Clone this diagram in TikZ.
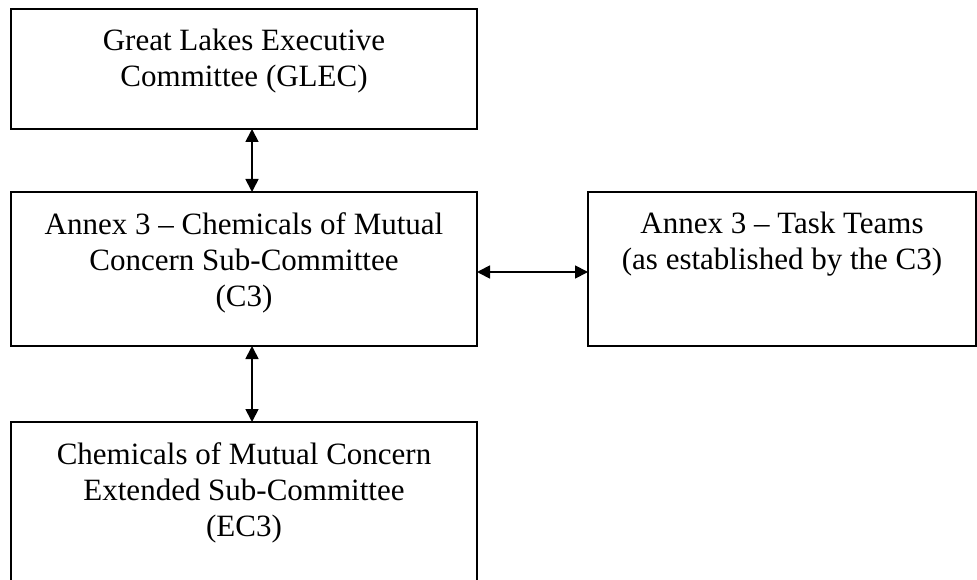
\documentclass[tikz,border=0pt]{standalone}
\usepackage{fontspec}
\setmainfont{Liberation Serif}
\usetikzlibrary{arrows.meta}
\tikzstyle{unit} = [rectangle, 
draw=black, 
line width=1.8pt, 
anchor=north west, 
inner sep=0pt, 
outer sep=0pt]
\tikzstyle{caption} = [anchor=north, 
yshift=-20pt, 
inner sep=0pt, 
align=center, 
font=\fontsize{31}{36}\selectfont]
\tikzstyle{link} = [line width=1.8pt,
{Triangle[length=13pt,width=13pt]}-{Triangle[length=13pt,width=13pt]}]

\begin{document}
\begin{tikzpicture}[x=1pt, y=-1pt]
\useasboundingbox (0,0) rectangle (977,580);

\node (glec) [unit, minimum width=466pt, minimum height=120pt,
  label={[caption]north:Great Lakes Executive\\Committee (GLEC)}] at (11,9) {};
\node (cthree) [unit, minimum width=466pt, minimum height=154pt,
  label={[caption]north:Annex 3 – Chemicals of Mutual\\Concern Sub-Committee\\(C3)}] at (11,192) {};
\node (tasks) [unit, minimum width=388pt, minimum height=154pt,
  label={[caption]north:Annex 3 – Task Teams\\(as established by the C3)}] at (588,192) {};
\node (ecthree) [unit, minimum width=466pt, minimum height=170pt,
  label={[caption]north:Chemicals of Mutual Concern\\Extended Sub-Committee\\(EC3)}] at (11,422) {};

% the arrows sit a little off the box centres
\coordinate (spine) at (252,0);
\coordinate (row) at (0,272);

\draw [link] (glec.south -| spine) -- (cthree.north -| spine);
\draw [link] (cthree.south -| spine) -- (ecthree.north -| spine);
\draw [link] (cthree.east |- row) -- (tasks.west |- row);

\end{tikzpicture}
\end{document}
